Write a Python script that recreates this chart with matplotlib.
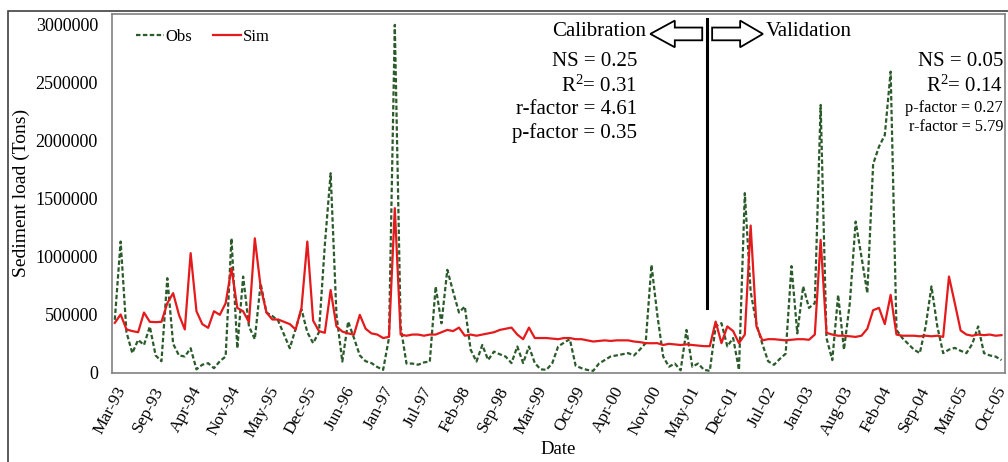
import numpy as np
import matplotlib
matplotlib.use("Agg")
import matplotlib.pyplot as plt
from matplotlib.patches import FancyArrow, Rectangle

plt.rcParams['font.family'] = ['Liberation Serif', 'DejaVu Serif']
plt.rcParams['mathtext.fontset'] = 'custom'
plt.rcParams['mathtext.rm'] = 'Liberation Serif'
plt.rcParams['mathtext.default'] = 'rm'

# monthly sediment load, thousand tons (Mar-93 ... Nov-05)
obs_k = [
    457, 1132, 350, 170, 284, 240, 399, 150, 100, 816,
    250, 150, 141, 212, 30, 70, 83, 40, 100, 141,
    1160, 212, 830, 400, 290, 770, 520, 490, 450, 330,
    212, 380, 548, 350, 256, 350, 1100, 1721, 500, 97,
    442, 300, 150, 100, 84, 50, 26, 300, 3000, 400,
    80, 80, 70, 90, 97, 744, 427, 888, 700, 520,
    572, 200, 97, 240, 111, 183, 160, 140, 84, 227,
    84, 227, 84, 30, 26, 84, 227, 260, 290, 62,
    40, 25, 17, 80, 110, 141, 150, 160, 170, 150,
    200, 256, 931, 500, 141, 53, 80, 22, 370, 53,
    80, 26, 17, 400, 428, 228, 300, 26, 1549, 700,
    420, 250, 100, 69, 120, 165, 920, 340, 745, 560,
    600, 2310, 300, 110, 672, 200, 600, 1304, 1000, 688,
    1800, 1950, 2050, 2597, 370, 300, 250, 200, 170, 400,
    745, 400, 170, 200, 215, 190, 170, 250, 400, 170,
    150, 140, 110,
]

sim_k = [
    431, 503, 374, 360, 350, 520, 440, 437, 440, 600,
    687, 500, 374, 1032, 531, 420, 388, 531, 500, 600,
    903, 560, 530, 437, 1160, 740, 520, 460, 460, 440,
    420, 374, 560, 1132, 450, 360, 345, 714, 400, 356,
    340, 330, 500, 380, 340, 330, 300, 310, 1420, 330,
    320, 330, 330, 320, 330, 330, 350, 370, 360, 390,
    320, 330, 320, 330, 340, 350, 370, 380, 390, 330,
    290, 390, 300, 300, 300, 295, 290, 300, 300, 290,
    290, 280, 270, 275, 280, 275, 280, 280, 280, 270,
    265, 256, 255, 256, 240, 250, 245, 240, 245, 240,
    235, 230, 230, 442, 256, 400, 360, 256, 330, 1270,
    400, 280, 290, 290, 285, 280, 285, 290, 290, 285,
    330, 1146, 345, 330, 320, 320, 315, 310, 320, 380,
    540, 560, 420, 672, 330, 320, 320, 320, 315, 320,
    315, 320, 310, 830, 600, 365, 330, 320, 330, 325,
    330, 320, 325,
]

tick_labels = ["Mar-93", "Sep-93", "Apr-94", "Nov-94", "May-95", "Dec-95",
               "Jun-96", "Jan-97", "Jul-97", "Feb-98", "Sep-98", "Mar-99",
               "Oct-99", "Apr-00", "Nov-00", "May-01", "Dec-01", "Jul-02",
               "Jan-03", "Aug-03", "Feb-04", "Sep-04", "Mar-05", "Oct-05"]

calib_stats = ["NS = 0.25", "R$^2$= 0.31", "r-factor = 4.61", "p-factor = 0.35"]
valid_stats = ["NS = 0.05", "R$^2$= 0.14", "p-factor = 0.27", "r-factor = 5.79"]
split_month = 101.5

obs = np.array(obs_k) * 1000
sim = np.array(sim_k) * 1000
months = np.arange(len(obs))

fig = plt.figure(figsize=(10.08, 4.62), dpi=100)
ax = fig.add_axes([0.111, 0.193, 0.886, 0.777])

ax.plot(months, obs, color="#2b5a2b", linestyle=(0, (2.0, 1.1)), lw=1.6, label="Obs")
ax.plot(months, sim, color="#e41a1c", lw=1.6, label="Sim")

ax.set_xlim(-0.5, 152.6)
ax.set_ylim(0, 3095000)
ax.set_yticks(np.arange(0, 3000001, 500000))
ax.set_yticklabels([str(v) for v in range(0, 3000001, 500000)], fontsize=13)
ax.set_xticks(np.linspace(0, 151, len(tick_labels)))
ax.set_xticklabels(tick_labels, rotation=62, ha="right", rotation_mode="anchor", fontsize=12.5)
ax.tick_params(axis="y", length=0, pad=10)
ax.tick_params(axis="x", length=0, pad=8)
for s in ax.spines.values():
    s.set_color("#808080")
    s.set_linewidth(1.2)

ax.set_ylabel("Sediment load (Tons)", fontsize=14, labelpad=4)
ax.set_xlabel("Date", fontsize=13.5)
ax.xaxis.set_label_coords(0.5, -0.19)

ax.legend(loc="upper left", bbox_to_anchor=(0.01, 1.0), ncol=2, frameon=False,
          fontsize=12, handlelength=1.7, handletextpad=0.1, columnspacing=1.2)

# calibration / validation divider
ax.plot([split_month, split_month], [560000, 3050000], color="black", lw=2.2)
ax.add_patch(FancyArrow(100.7, 2922000, -8.9, 0, width=110000, head_width=230000,
                        head_length=4.2, length_includes_head=True,
                        fc="white", ec="black", lw=1.3))
ax.add_patch(FancyArrow(102.4, 2922000, 8.7, 0, width=110000, head_width=230000,
                        head_length=3.9, length_includes_head=True,
                        fc="white", ec="black", lw=1.3))
ax.text(0.598, 0.950, "Calibration", transform=ax.transAxes, ha="right", va="center", fontsize=15)
ax.text(0.732, 0.950, "Validation", transform=ax.transAxes, ha="left", va="center", fontsize=15)

for txt, yy in zip(calib_stats, [0.866, 0.799, 0.733, 0.669]):
    ax.text(0.588, yy, txt, transform=ax.transAxes, ha="right", va="center", fontsize=15)
for txt, yy, fs in zip(valid_stats, [0.866, 0.799, 0.738, 0.685], [15, 15, 11.7, 11.7]):
    ax.text(0.998, yy, txt, transform=ax.transAxes, ha="right", va="center", fontsize=fs)

# outer frame of the figure
fig.add_artist(Rectangle((8 / 1008, -0.05), 1.1, 1 - 11 / 462 + 0.05, transform=fig.transFigure,
                         fill=False, ec="#404040", lw=1.2))

fig.savefig("out.png", dpi=100)
